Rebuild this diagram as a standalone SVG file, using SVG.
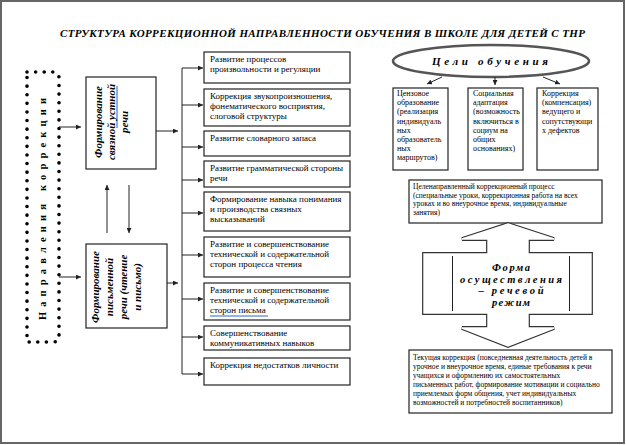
<svg xmlns="http://www.w3.org/2000/svg" width="626" height="445" viewBox="0 0 626 445">
<style>
.t{font-family:"Liberation Serif","Times New Roman",serif;fill:#000}
.s9{font-size:9px}
.s8{font-size:8px}
.s75{font-size:7.5px}
.bi{font-weight:bold;font-style:italic}
.b{font-weight:bold}
.box{fill:#fff;stroke:#222;stroke-width:1.2}
.ln{stroke:#222;stroke-width:1;fill:none}
.blue{stroke:#6f9be0;stroke-width:1.6;fill:none}
</style>
<defs>
<marker id="ah" viewBox="0 0 6 6" refX="6" refY="3" markerWidth="5" markerHeight="5" orient="auto" markerUnits="userSpaceOnUse">
<path d="M0,0 L6,3 L0,6 Z" fill="#222"/>
</marker>
</defs>
<rect x="1" y="1" width="623" height="442" fill="#fff" stroke="#666" stroke-width="2"/>
<text class="t bi" x="60" y="37" font-size="11" textLength="525" lengthAdjust="spacing">СТРУКТУРА КОРРЕКЦИОННОЙ НАПРАВЛЕННОСТИ ОБУЧЕНИЯ В ШКОЛЕ ДЛЯ ДЕТЕЙ С ТНР</text>

<g id="napravleniya">
<path d="M27,72 L53,72 Q59,72 59,78 L59,336 Q59,342 53,342 L27,342 Z" fill="none" stroke="#000" stroke-width="3.6" stroke-linecap="round" stroke-dasharray="0 8.6"/>
<text class="t b" font-size="10.5" transform="translate(46,320) rotate(-90)" textLength="222" lengthAdjust="spacing">Направления коррекции</text>
</g>

<g id="ustnaya">
<rect class="box" x="86" y="77" width="70" height="92"/>
<line class="blue" x1="117" y1="86" x2="117" y2="128"/>
<g class="t bi" font-size="11" text-anchor="middle">
<text transform="translate(101.5,122) rotate(-90)">Формирование</text>
<text transform="translate(114.5,122) rotate(-90)">связной  устной</text>
<text transform="translate(128,122) rotate(-90)">речи</text>
</g>
</g>

<g id="pismennaya">
<rect class="box" x="86" y="244" width="81" height="84"/>
<g class="t bi" font-size="11" text-anchor="middle">
<text transform="translate(99,287) rotate(-90)">Формирование</text>
<text transform="translate(113,287) rotate(-90)">письменной</text>
<text transform="translate(127,287) rotate(-90)">речи (чтение</text>
<text transform="translate(140.5,287) rotate(-90)">и письмо)</text>
</g>
</g>

<g id="boxA"><rect class="box" x="204" y="52" width="146" height="31"/>
<text class="t s9" x="210" y="62">Развитие процессов</text><text class="t s9" x="210" y="72">произвольности и регуляции</text></g>
<g id="boxB"><rect class="box" x="204" y="89" width="146" height="37"/>
<text class="t s9" x="210" y="99">Коррекция звукопроизношения,</text><text class="t s9" x="210" y="109">фонематического восприятия,</text><text class="t s9" x="210" y="119">слоговой структуры</text></g>
<g id="boxC"><rect class="box" x="204" y="131" width="146" height="25"/>
<text class="t s9" x="210" y="141">Развитие словарного запаса</text></g>
<g id="boxD"><rect class="box" x="204" y="161" width="146" height="26"/>
<text class="t s9" x="210" y="171">Развитие грамматической стороны</text><text class="t s9" x="210" y="181">речи</text></g>
<g id="boxE"><rect class="box" x="204" y="192" width="146" height="39"/>
<text class="t s9" x="210" y="202">Формирование навыка понимания</text><text class="t s9" x="210" y="212">и производства связных</text><text class="t s9" x="210" y="222">высказываний</text></g>
<g id="boxF"><rect class="box" x="204" y="237" width="146" height="40"/>
<text class="t s9" x="210" y="247">Развитие и совершенствование</text><text class="t s9" x="210" y="257">технической и содержательной</text><text class="t s9" x="210" y="267">сторон процесса чтения</text></g>
<g id="boxG"><rect class="box" x="204" y="283" width="146" height="37"/>
<text class="t s9" x="210" y="293">Развитие и совершенствование</text><text class="t s9" x="210" y="303">технической и содержательной</text><text class="t s9" x="210" y="313">сторон  письма</text>
<line class="blue" x1="210" y1="316" x2="268" y2="316"/></g>
<g id="boxH"><rect class="box" x="204" y="326" width="146" height="24"/>
<text class="t s9" x="210" y="336">Совершенствование</text><text class="t s9" x="210" y="346">коммуникативных навыков</text></g>
<g id="boxI"><rect class="box" x="204" y="358" width="146" height="27"/>
<text class="t s9" x="210" y="368">Коррекция недостатков личности</text></g>

<g id="celi">
<ellipse cx="491" cy="61" rx="98" ry="16" fill="#fff" stroke="#555" stroke-width="2.6"/>
<text class="t bi" font-size="11" x="432" y="65" textLength="116" lengthAdjust="spacing">Цели обучения</text>
</g>
<g id="goal1"><rect class="box" x="393" y="88" width="55" height="82"/>
<g class="t s8"><text x="397" y="96">Цензовое</text><text x="397" y="105.2">образование</text><text x="397" y="114.4">(реализация</text><text x="397" y="123.6">индивидуаль</text><text x="397" y="132.8">ных</text><text x="397" y="142">образователь</text><text x="397" y="151.2">ных</text><text x="397" y="160.4">маршрутов)</text></g></g>
<g id="goal2"><rect class="box" x="468" y="88" width="55" height="82"/>
<g class="t s8"><text x="473" y="96">Социальная</text><text x="473" y="105.2">адаптация</text><text x="473" y="114.4">(возможность</text><text x="473" y="123.6">включиться в</text><text x="473" y="132.8">социум на</text><text x="473" y="142">общих</text><text x="473" y="151.2">основаниях)</text></g></g>
<g id="goal3"><rect class="box" x="537" y="88" width="61" height="82"/>
<g class="t s8"><text x="542" y="96">Коррекция</text><text x="542" y="105.2">(компенсация)</text><text x="542" y="114.4">ведущего и</text><text x="542" y="123.6">сопутствующи</text><text x="542" y="132.8">х дефектов</text></g></g>

<g id="process"><rect class="box" x="409" y="180" width="193" height="43"/>
<g class="t s75"><text x="413" y="189">Целенаправленный коррекционный процесс</text><text x="413" y="197.5">(специальные уроки, коррекционная работа на всех</text><text x="413" y="206">уроках и во внеурочное время, индивидуальные</text><text x="413" y="214.5">занятия)</text></g></g>

<g id="forma">
<path d="M508,224 L554,239 L528,239 L528,254 L591,254 L591,313 L528,313 L528,328 L554,328 L508,346 L462,328 L488,328 L488,313 L424,313 L424,254 L488,254 L488,239 L462,239 Z" fill="#fff" stroke="#333" stroke-width="3.8" stroke-linejoin="miter"/>
<path d="M508,224 L554,239 L528,239 L528,254 L591,254 L591,313 L528,313 L528,328 L554,328 L508,346 L462,328 L488,328 L488,313 L424,313 L424,254 L488,254 L488,239 L462,239 Z" fill="#fff" stroke="#fff" stroke-width="1.4" stroke-linejoin="miter"/>
<line class="ln" x1="452.5" y1="256" x2="452.5" y2="311" stroke="#555"/>
<line class="ln" x1="569.5" y1="256" x2="569.5" y2="311" stroke="#555"/>
<g class="t bi" font-size="10.5" text-anchor="middle">
<text x="511" y="271" textLength="38" lengthAdjust="spacing">Форма</text>
<text x="511" y="282.5" textLength="102" lengthAdjust="spacing">осуществления</text>
<text x="511" y="294" textLength="65" lengthAdjust="spacing">– речевой</text>
<text x="511" y="305.5" textLength="38" lengthAdjust="spacing">режим</text>
</g>
</g>

<g id="tekushaya"><rect class="box" x="409" y="350" width="203" height="63"/>
<g class="t s75"><text x="413" y="360">Текущая коррекция (повседневная деятельность детей в</text><text x="413" y="369">урочное и внеурочное время, единые требования к речи</text><text x="413" y="378">учащихся и оформлению их самостоятельных</text><text x="413" y="387">письменных работ, формирование мотивации и социально</text><text x="413" y="396">приемлемых форм общения, учет индивидуальных</text><text x="413" y="405">возможностей и потребностей воспитанников)</text></g></g>

<g id="connectors" class="ln" marker-end="url(#ah)">
<line x1="59" y1="127" x2="81" y2="127"/>
<line x1="59" y1="277" x2="81" y2="277"/>
<line x1="156" y1="131" x2="178" y2="131"/>
<line x1="167" y1="283" x2="178" y2="283"/>
<line x1="107" y1="233" x2="107" y2="185"/>
<line x1="129" y1="185" x2="129" y2="233"/>
<line x1="182" y1="68" x2="182" y2="374" marker-end="none"/>
<line x1="182" y1="68" x2="203" y2="68"/>
<line x1="182" y1="105" x2="203" y2="105"/>
<line x1="182" y1="147" x2="203" y2="147"/>
<line x1="182" y1="180" x2="203" y2="180"/>
<line x1="182" y1="213" x2="203" y2="213"/>
<line x1="182" y1="255" x2="203" y2="255"/>
<line x1="182" y1="299" x2="203" y2="299"/>
<line x1="182" y1="337" x2="203" y2="337"/>
<line x1="182" y1="374" x2="203" y2="374"/>
<line x1="442" y1="77" x2="427" y2="84"/>
<line x1="495" y1="77" x2="495" y2="85"/>
<line x1="543" y1="77" x2="560" y2="84"/>
</g>
</svg>
